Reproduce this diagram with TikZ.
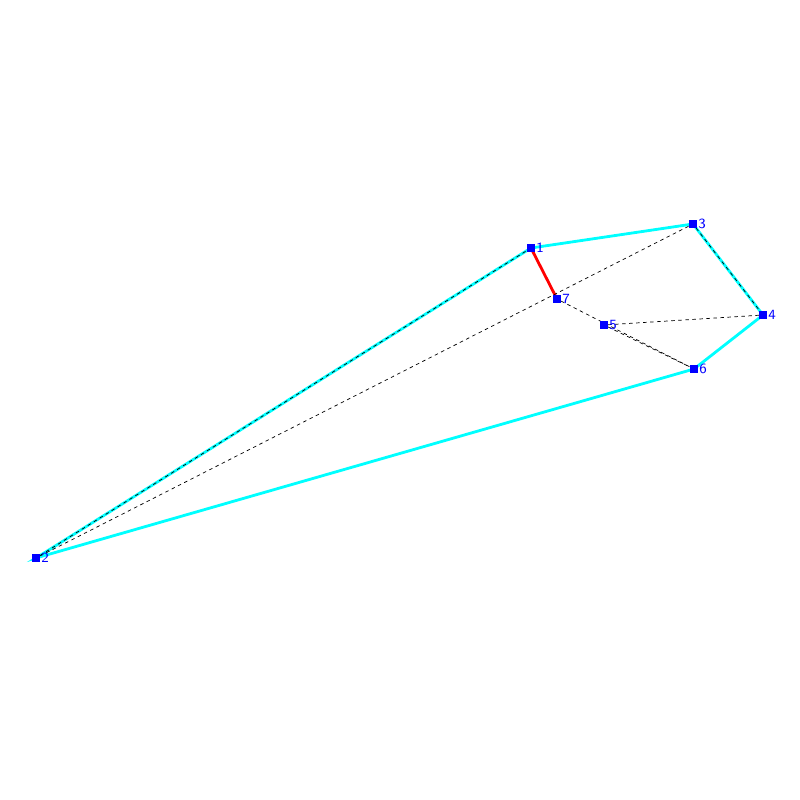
\documentclass[tikz,border=0pt]{standalone}
\usepackage{tikz}
\definecolor{vblue}{HTML}{0000FF}
\definecolor{ecyan}{HTML}{00FFFF}
\definecolor{ered}{HTML}{FF0000}
\tikzstyle{vertice}=[rectangle, fill=vblue, inner sep=0pt, minimum size=0.15cm]
\tikzstyle{vlabel}=[label distance=0pt, text=vblue, font=\sffamily\footnotesize, inner sep=0.5pt]
\tikzstyle{hull}=[draw=ecyan, line width=1.6pt]
\tikzstyle{tri}=[draw=black, dashed, line width=0.4pt, dash pattern=on 2pt off 2pt]

\begin{document}
\begin{tikzpicture}[x=0.02cm, y=-0.02cm]
			\useasboundingbox (0,0) rectangle (800,800);
			\node[vertice] (v1) at (531,248) {};
			\node[vertice] (v2) at (36,558) {};
			\node[vertice] (v3) at (693,224) {};
			\node[vertice] (v4) at (763,315) {};
			\node[vertice] (v5) at (604,325) {};
			\node[vertice] (v6) at (694,369) {};
			\node[vertice] (v7) at (557,299) {};
			\path[hull]
				(v1.center)--(v3.center)--(v4.center)--(v6.center)--(v2.center)--cycle;
			\path[draw=ered, line width=1.6pt] (v1.center)--(v7.center);
			\path[tri] (v2)--(v1);
			\path[tri] (v2)--(v3);
			\path[tri] (v3)--(v4);
			\path[tri] (v7)--(v6);
			\path[tri] (v5)--(v6);
			\path[tri] (v5)--(v4);
			\foreach \v in {1,...,7}
				\node[vertice, label={[vlabel]0:\v}] at (v\v) {};
		\end{tikzpicture}
\end{document}
